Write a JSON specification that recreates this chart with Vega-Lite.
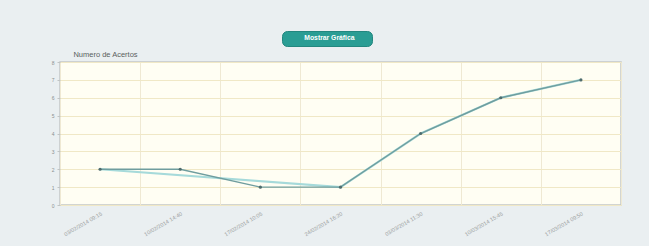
{
  "$schema": "https://vega.github.io/schema/vega-lite/v6.json",
  "width": 561,
  "height": 143,
  "autosize": {"type": "none"},
  "padding": {"left": 60, "top": 62, "right": 28, "bottom": 41},
  "background": "#eaeff1",
  "data": {
    "values": [
      {"fecha": "03/02/2014 09:15", "serie": "A", "aciertos": 2},
      {"fecha": "10/02/2014 14:40", "serie": "A", "aciertos": 2},
      {"fecha": "17/02/2014 10:05", "serie": "A", "aciertos": 1},
      {"fecha": "24/02/2014 16:20", "serie": "A", "aciertos": 1},
      {"fecha": "03/03/2014 11:30", "serie": "A", "aciertos": 4},
      {"fecha": "10/03/2014 15:45", "serie": "A", "aciertos": 6},
      {"fecha": "17/03/2014 09:50", "serie": "A", "aciertos": 7},
      {"fecha": "03/02/2014 09:15", "serie": "B", "aciertos": 2},
      {"fecha": "24/02/2014 16:20", "serie": "B", "aciertos": 1},
      {"fecha": "03/03/2014 11:30", "serie": "B", "aciertos": 4},
      {"fecha": "10/03/2014 15:45", "serie": "B", "aciertos": 6},
      {"fecha": "17/03/2014 09:50", "serie": "B", "aciertos": 7}
    ]
  },
  "encoding": {
    "x": {
      "field": "fecha",
      "type": "ordinal",
      "sort": null,
      "bandPosition": 0.5,
      "scale": {
        "type": "band",
        "paddingInner": 0,
        "paddingOuter": 0,
        "domain": ["03/02/2014 09:15", "10/02/2014 14:40", "17/02/2014 10:05", "24/02/2014 16:20", "03/03/2014 11:30", "10/03/2014 15:45", "17/03/2014 09:50"]
      },
      "axis": {
        "title": null,
        "tickBand": "extent",
        "grid": true,
        "gridColor": "#efe9d3",
        "gridWidth": 1,
        "ticks": false,
        "domain": false,
        "labelAngle": -30,
        "labelAlign": "right",
        "labelBaseline": "top",
        "labelFontSize": 5.5,
        "labelColor": "#9aa0a0",
        "labelPadding": 6,
        "labelOverlap": false
      }
    },
    "y": {
      "field": "aciertos",
      "type": "quantitative",
      "scale": {"domain": [0, 8], "nice": false},
      "axis": {
        "title": "Numero de Acertos",
        "titleAngle": 0,
        "titleX": 45,
        "titleY": -8,
        "titleAlign": "center",
        "titleBaseline": "middle",
        "titleFontSize": 7.5,
        "titleFontWeight": "normal",
        "titleColor": "#5a5f60",
        "values": [0, 1, 2, 3, 4, 5, 6, 7, 8],
        "labelFontSize": 5,
        "labelColor": "#8a9090",
        "tickSize": 3,
        "tickColor": "#c0c4c4",
        "labelPadding": 3,
        "domain": false,
        "grid": true,
        "gridColor": "#f0e8c6"
      }
    }
  },
  "layer": [
    {
      "transform": [{"filter": "datum.serie == 'B'"}],
      "mark": {"type": "line", "strokeWidth": 2.2, "color": "#a6dada"}
    },
    {
      "transform": [{"filter": "datum.serie == 'A'"}],
      "mark": {"type": "line", "strokeWidth": 1.4, "color": "#6f9d9e"}
    },
    {
      "transform": [{"filter": "datum.serie == 'A'"}],
      "mark": {"type": "point", "filled": true, "size": 10, "color": "#4e6c6d", "opacity": 1},
      "encoding": {
        "shape": {
          "datum": "Mostrar Gráfica",
          "type": "nominal",
          "scale": {"range": ["circle"]},
          "legend": {
            "orient": "none",
            "legendX": 222,
            "legendY": -31,
            "title": "\u00a0",
            "titleOrient": "right",
            "titlePadding": 14,
            "titleFontSize": 6,
            "fillColor": "#2a9d94",
            "strokeColor": "#23877f",
            "cornerRadius": 5,
            "padding": 3.5,
            "symbolSize": 9,
            "symbolOpacity": 0,
            "symbolStrokeWidth": 0,
            "labelOffset": 12,
            "labelColor": "#ffffff",
            "labelFontWeight": "bold",
            "labelFontSize": 6.8
          }
        }
      }
    }
  ],
  "config": {
    "font": "Liberation Sans",
    "view": {"fill": "#fffef3", "stroke": "#c3c8c8", "strokeWidth": 1.5}
  }
}
